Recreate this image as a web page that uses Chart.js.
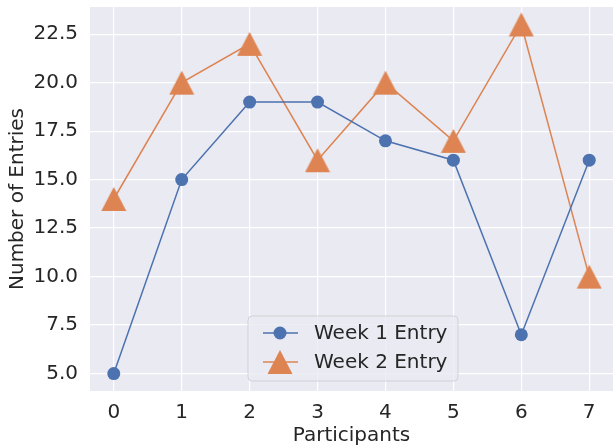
<!DOCTYPE html>
<html>
<head>
<meta charset="utf-8">
<script src="https://cdn.jsdelivr.net/npm/chart.js@4/dist/chart.umd.min.js"></script>
<style>
  html, body { margin: 0; padding: 0; background: #ffffff; }
  #wrap { width: 613px; height: 448px; position: relative; }
</style>
</head>
<body>
<div id="wrap"><canvas id="chart"></canvas></div>
<script>
// data
const participants = [0, 1, 2, 3, 4, 5, 6, 7];
const week1 = [5, 15, 19, 19, 17, 16, 7, 16];
const week2 = [14, 20, 22, 16, 20, 17, 23, 10];
const seriesNames = ["Week 1 Entry", "Week 2 Entry"];
const yTicks = [5, 7.5, 10, 12.5, 15, 17.5, 20, 22.5];

const FONT = "'DejaVu Sans', sans-serif";
const TEXT = "#262626";
const BLUE = "#4c72b0";
const ORANGE = "#dd8452";

// matplotlib-style "^" marker: as wide as it is tall, centred on its box
function triangleMarker(color) {
    const cv = document.createElement("canvas");
    cv.width = 26;
    cv.height = 26;
    const g = cv.getContext("2d");
    g.fillStyle = color;
    g.beginPath();
    g.moveTo(13, 1);
    g.lineTo(25.5, 25);
    g.lineTo(0.5, 25);
    g.closePath();
    g.fill();
    return cv;
}
const triImg = triangleMarker(ORANGE);

// legend drawn inside the plot area, like matplotlib's
const innerLegend = {
    id: "innerLegend",
    afterDatasetsDraw(chart) {
        const c = chart.ctx;
        const bx = 248, by = 316, bw = 210, bh = 65;
        c.save();
        c.beginPath();
        c.roundRect(bx, by, bw, bh, 4);
        c.fillStyle = "rgba(234,234,242,0.8)";
        c.fill();
        c.strokeStyle = "rgba(204,204,204,0.8)";
        c.lineWidth = 1;
        c.stroke();
        chart.data.datasets.forEach((ds, i) => {
            const y = by + 17 + i * 29;
            c.strokeStyle = ds.borderColor;
            c.lineWidth = ds.borderWidth;
            c.beginPath();
            c.moveTo(bx + 15, y);
            c.lineTo(bx + 50, y);
            c.stroke();
            c.fillStyle = ds.pointBackgroundColor;
            Chart.helpers.drawPoint(c, {
                pointStyle: ds.pointStyle,
                radius: ds.pointRadius,
                borderWidth: 0
            }, bx + 32, y);
            c.fillStyle = TEXT;
            c.font = "20px " + FONT;
            c.textBaseline = "middle";
            c.textAlign = "left";
            c.fillText(ds.label, bx + 66, y + 1);
        });
        c.restore();
    }
};

const plotBg = {
    id: "plotBg",
    beforeDraw(chart) {
        const a = chart.chartArea;
        chart.ctx.save();
        chart.ctx.fillStyle = "#eaeaf2";
        chart.ctx.fillRect(a.left, a.top, a.right - a.left, a.bottom - a.top);
        chart.ctx.restore();
    }
};

new Chart(document.getElementById("chart"), {
    type: "line",
    data: {
        datasets: [
            {
                label: seriesNames[0],
                data: participants.map((p, i) => ({ x: p, y: week1[i] })),
                borderColor: BLUE,
                backgroundColor: BLUE,
                pointBackgroundColor: BLUE,
                borderWidth: 1.5,
                pointStyle: "circle",
                pointRadius: 6.5,
                pointBorderWidth: 0,
                pointHoverRadius: 6.5
            },
            {
                label: seriesNames[1],
                data: participants.map((p, i) => ({ x: p, y: week2[i] })),
                borderColor: ORANGE,
                backgroundColor: ORANGE,
                pointBackgroundColor: ORANGE,
                borderWidth: 1.5,
                pointStyle: triImg,
                pointRadius: 13,
                pointBorderWidth: 0,
                pointHoverRadius: 13
            }
        ]
    },
    options: {
        responsive: true,
        maintainAspectRatio: false,
        animation: false,
        layout: { autoPadding: false, padding: { top: 7, right: 0, left: 0, bottom: 0 } },
        plugins: {
            legend: { display: false },
            tooltip: { enabled: false }
        },
        scales: {
            x: {
                type: "linear",
                min: -0.35,
                max: 7.35,
                afterBuildTicks: (axis) => { axis.ticks = participants.map(v => ({ value: v })); },
                afterFit: (axis) => {
                    axis.height = 57;
                    axis.paddingLeft = 0;
                    axis.paddingRight = 0;
                },
                ticks: {
                    color: TEXT,
                    font: { family: FONT, size: 20 },
                    padding: 10,
                    maxRotation: 0,
                    callback: (v) => String(v)
                },
                grid: { color: "#ffffff", lineWidth: 1.2, drawTicks: false },
                border: { display: false },
                title: {
                    display: true,
                    text: "Participants",
                    color: TEXT,
                    font: { family: FONT, size: 20 },
                    padding: { top: 2, bottom: 0 }
                }
            },
            y: {
                min: 4.1,
                max: 23.9,
                afterBuildTicks: (axis) => { axis.ticks = yTicks.map(v => ({ value: v })); },
                afterFit: (axis) => {
                    axis.width = 90;
                    axis.paddingTop = 0;
                    axis.paddingBottom = 0;
                },
                ticks: {
                    color: TEXT,
                    font: { family: FONT, size: 20 },
                    padding: 12,
                    callback: (v) => Number(v).toFixed(1)
                },
                grid: { color: "#ffffff", lineWidth: 1.2, drawTicks: false },
                border: { display: false },
                title: {
                    display: true,
                    text: "Number of Entries",
                    color: TEXT,
                    font: { family: FONT, size: 20 },
                    padding: { top: 6, bottom: 0 }
                }
            }
        }
    },
    plugins: [plotBg, innerLegend]
});
</script>
</body>
</html>
